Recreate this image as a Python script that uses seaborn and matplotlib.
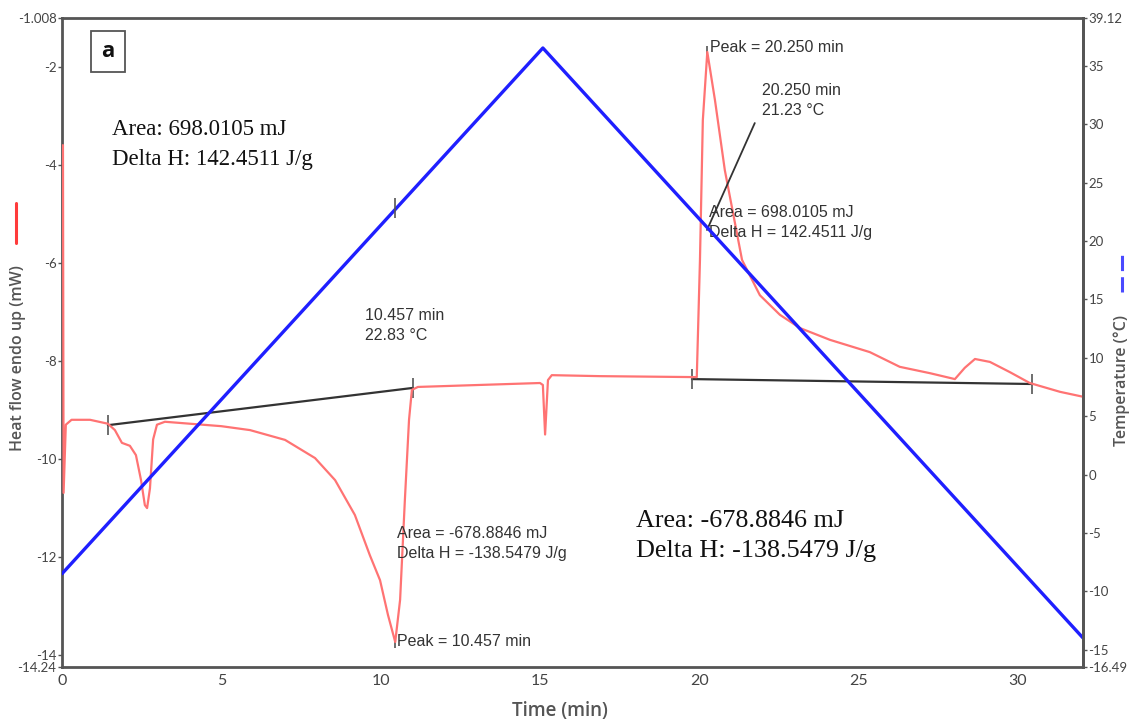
import numpy as np
import pandas as pd
import matplotlib
matplotlib.use("Agg")
import matplotlib.pyplot as plt
from matplotlib.lines import Line2D
import seaborn as sns

# ---------------- data ----------------
heat_t = [0.03, 0.05, 0.12, 0.30, 0.88, 1.44, 1.66, 1.88, 2.13, 2.32, 2.48, 2.60, 2.67,
          2.76, 2.86, 2.98, 3.23, 5.0, 5.9, 7.0, 7.94, 8.57, 9.19, 9.66, 9.98, 10.23,
          10.457, 10.61, 10.76, 10.89, 10.98, 11.17, 15.0, 15.09, 15.16, 15.25, 15.37,
          16.88, 19.92, 20.02, 20.11, 20.25, 20.49, 20.80, 21.34, 21.90, 22.53, 23.16,
          24.10, 25.35, 26.29, 27.24, 28.02, 28.33, 28.65, 29.12, 29.75, 30.37, 31.32, 32.04]
heat_mw = [-3.6, -10.69, -9.30, -9.20, -9.20, -9.28, -9.41, -9.67, -9.73, -9.92, -10.43,
           -10.94, -11.0, -10.6, -9.6, -9.30, -9.24, -9.33, -9.41, -9.61, -9.98, -10.43,
           -11.14, -11.96, -12.47, -13.18, -13.73, -12.87, -10.83, -9.2, -8.59, -8.53,
           -8.45, -8.49, -9.50, -8.39, -8.29, -8.31, -8.33, -5.94, -3.09, -1.70, -2.68,
           -4.11, -5.94, -6.66, -7.06, -7.33, -7.57, -7.82, -8.12, -8.25, -8.37, -8.14,
           -7.96, -8.02, -8.23, -8.45, -8.63, -8.73]

temp_t = [0.0, 15.09, 32.04]
temp_c = [-8.5, 36.55, -14.0]

base1_t = [1.44, 11.01]
base1_mw = [-9.31, -8.55]
base2_t = [19.77, 30.44]
base2_mw = [-8.37, -8.47]

peak_t = [10.457, 20.25]
peak_mw = [-13.73, -1.70]
marker_temp_t = [10.457]
marker_temp_c = [22.83]

x_ticks = [0, 5, 10, 15, 20, 25, 30]
left_ticks = [-1.008, -2, -4, -6, -8, -10, -12, -14, -14.24]
left_labels = ["-1.008", "-2", "-4", "-6", "-8", "-10", "-12", "-14", "-14.24"]
right_ticks = [39.12, 35, 30, 25, 20, 15, 10, 5, 0, -5, -10, -15, -16.49]
right_labels = ["39.12", "35", "30", "25", "20", "15", "10", "5", "0", "-5", "-10", "-15", "-16.49"]

# ---------------- style ----------------
sns.set_theme(style="white")
plt.rcParams["font.family"] = ["Lato", "DejaVu Sans"]

RED = "#ff7373"
BLUE = "#1f1fff"
GRID = "#555555"
TXT = "#333333"

fig = plt.figure(figsize=(11.32, 7.24), dpi=100)
ax = fig.add_axes([62 / 1132, 1 - 667 / 724, (1083 - 62) / 1132, (667 - 18) / 724])
ax2 = ax.twinx()

heat_df = pd.DataFrame({"t": heat_t, "mw": heat_mw})
temp_df = pd.DataFrame({"t": temp_t, "c": temp_c})

sns.lineplot(data=heat_df, x="t", y="mw", ax=ax, color=RED, lw=1.6,
             sort=False, estimator=None, zorder=3)
ax.plot(base1_t, base1_mw, color="#333333", lw=1.6, zorder=2)
ax.plot(base2_t, base2_mw, color="#333333", lw=1.6, zorder=2)
ax.plot(base1_t, base1_mw, ls="none", marker="|", ms=14, mew=1.2, color="#555555")
ax.plot(base2_t, base2_mw, ls="none", marker="|", ms=14, mew=1.2, color="#555555")
ax.plot(peak_t, peak_mw, ls="none", marker="|", ms=9, mew=1.2, color="#555555")

sns.lineplot(data=temp_df, x="t", y="c", ax=ax2, color=BLUE, lw=2.4,
             sort=False, estimator=None)
ax2.plot(marker_temp_t, marker_temp_c, ls="none", marker="|", ms=14, mew=1.2, color="#555555")

# limits & ticks
ax.set_xlim(0, 32.04)
ax.set_ylim(-14.24, -1.008)
ax2.set_ylim(-16.49, 39.12)
ax.set_xticks(x_ticks)
ax.set_xticklabels([str(v) for v in x_ticks])
ax.set_yticks(left_ticks)
ax.set_yticklabels(left_labels)
ax2.set_yticks(right_ticks)
ax2.set_yticklabels(right_labels)

ax.tick_params(axis="x", direction="out", length=3, width=1, colors=GRID,
               labelsize=11.5, labelcolor="#444444", pad=2)
ax.tick_params(axis="y", direction="out", length=3, width=1, colors=GRID,
               labelsize=9.5, labelcolor="#444444", pad=1)
ax2.tick_params(axis="y", direction="out", length=3, width=1, colors=GRID,
                labelsize=9.5, labelcolor="#444444", pad=1)

for s in ax.spines.values():
    s.set_color(GRID)
    s.set_linewidth(2)
    s.set_visible(True)
for name, s in ax2.spines.items():
    s.set_color(GRID)
    s.set_linewidth(2)
    s.set_visible(name == "right")

ax.set_xlabel("")
ax.set_ylabel("")
ax2.set_ylabel("")

# axis titles
lab_font = dict(family=["Open Sans", "DejaVu Sans"], color="#555555", fontweight="semibold")
fig.text(0.495, 0.018, "Time (min)", ha="center", va="center", fontsize=13.5, **lab_font)
fig.text(0.016, 0.505, "Heat flow endo up (mW)", rotation=90, ha="center", va="center",
         fontsize=11.5, **lab_font)
fig.text(0.991, 0.475, "Temperature (°C)", rotation=90, ha="center", va="center",
         fontsize=11.5, **lab_font)
fig.add_artist(Line2D([0.0145, 0.0145], [1 - 243 / 724, 1 - 203 / 724],
                      color="#ff3b3b", lw=2.2, transform=fig.transFigure))
fig.add_artist(Line2D([0.991, 0.991], [1 - 292 / 724, 1 - 255 / 724],
                      color="#4a4aff", lw=2.2, ls=(0, (5, 2)), transform=fig.transFigure))

# panel label
ax.text(0.045, 0.948, "a", transform=ax.transAxes, ha="center", va="center",
        fontsize=16, fontweight="bold", family=["Open Sans", "DejaVu Sans"], color="#111111",
        bbox=dict(boxstyle="square,pad=0.45", fc="white", ec="#555555", lw=1.3), zorder=6)

# large serif annotations
serif = ["Liberation Serif", "DejaVu Serif"]
big_tl = dict(ha="left", va="center", fontsize=16.5, family=serif, color="#111111")
big_br = dict(ha="left", va="center", fontsize=18.8, family=serif, color="#111111")
ax.text(1.57, -3.29, "Area: 698.0105 mJ", **big_tl)
ax.text(1.57, -3.90, "Delta H: 142.4511 J/g", **big_tl)
ax.text(18.01, -11.26, "Area: -678.8846 mJ", **big_br)
ax.text(18.01, -11.87, "Delta H: -138.5479 J/g", **big_br)

# small instrument annotations
sans = ["Liberation Sans", "DejaVu Sans"]
small = dict(ha="left", va="center", fontsize=11.5, family=sans, color=TXT, zorder=5)
ax.text(20.33, -1.60, "Peak = 20.250 min", **small)
ax.text(21.96, -2.48, "20.250 min", **small)
ax.text(21.96, -2.89, "21.23 °C", **small)
ax.text(20.30, -4.98, "Area = 698.0105 mJ", **small)
ax.text(20.30, -5.39, "Delta H = 142.4511 J/g", **small)
ax.text(9.51, -7.08, "10.457 min", **small)
ax.text(9.51, -7.49, "22.83 °C", **small)
ax.text(10.51, -11.51, "Area = -678.8846 mJ", **small)
ax.text(10.51, -11.92, "Delta H = -138.5479 J/g", **small)
ax.text(10.51, -13.71, "Peak = 10.457 min", **small)
ax.plot([21.74, 20.24], [-3.15, -5.33], color="#333333", lw=1.3, zorder=4)

fig.savefig("out.png", dpi=100)
